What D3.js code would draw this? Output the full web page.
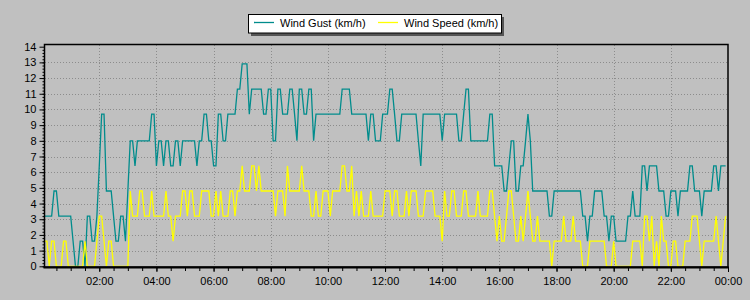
<!DOCTYPE html>
<html>
<head>
<meta charset="utf-8">
<script src="https://cdn.jsdelivr.net/npm/d3@7"></script>
<style>
    body { margin: 0; background: #c0c0c0; }
    svg { display: block; font-family: "Liberation Sans", Arial, sans-serif; }
</style>
</head>
<body>
<script>
(function(){
    "use strict";

    // readings every 5 minutes, from 00:05 to 23:55 (km/h)
    const startTime = new Date(2020, 0, 1, 0, 5);
    const endTime = new Date(2020, 0, 2, 0, 0);
    const stepMinutes = 5;

    const windGust = [
        3.2,3.2,3.2,3.2,4.8,4.8,3.2,3.2,3.2,3.2,3.2,3.2,
        1.6,0,0,1.6,1.6,0,3.2,3.2,1.6,1.6,3.2,6.4,
        9.7,9.7,4.8,4.8,4.8,3.2,1.6,1.6,3.2,3.2,1.6,4.8,
        8.0,8.0,6.4,8.0,8.0,8.0,8.0,8.0,8.0,9.7,9.7,6.4,
        8.0,8.0,6.4,8.0,8.0,6.4,6.4,8.0,8.0,6.4,8.0,8.0,
        8.0,8.0,8.0,8.0,6.4,8.0,8.0,9.7,9.7,8.0,8.0,6.4,
        6.4,9.7,9.7,8.0,8.0,9.7,9.7,9.7,9.7,11.3,11.3,12.9,
        12.9,12.9,9.7,11.3,11.3,11.3,11.3,11.3,9.7,9.7,11.3,11.3,
        8.0,8.0,11.3,11.3,9.7,9.7,9.7,11.3,11.3,9.7,8.0,11.3,
        11.3,9.7,9.7,11.3,11.3,8.0,9.7,9.7,9.7,9.7,9.7,9.7,
        9.7,9.7,9.7,9.7,9.7,11.3,11.3,11.3,11.3,9.7,9.7,9.7,
        9.7,9.7,9.7,9.7,8.0,9.7,9.7,8.0,8.0,8.0,9.7,9.7,
        9.7,11.3,11.3,9.7,8.0,8.0,9.7,9.7,9.7,9.7,9.7,9.7,
        9.7,8.0,6.4,9.7,9.7,9.7,9.7,9.7,9.7,9.7,9.7,8.0,
        9.7,9.7,9.7,9.7,9.7,9.7,8.0,8.0,9.7,11.3,11.3,8.0,
        8.0,8.0,8.0,8.0,8.0,8.0,8.0,9.7,9.7,6.4,6.4,6.4,
        6.4,4.8,4.8,6.4,8.0,8.0,4.8,4.8,6.4,6.4,8.0,9.7,
        8.0,4.8,4.8,4.8,4.8,4.8,4.8,4.8,3.2,3.2,4.8,4.8,
        4.8,4.8,4.8,4.8,4.8,4.8,4.8,4.8,4.8,4.8,3.2,3.2,
        1.6,3.2,3.2,4.8,4.8,4.8,4.8,3.2,3.2,1.6,3.2,3.2,
        1.6,1.6,1.6,1.6,1.6,3.2,3.2,4.8,3.2,3.2,3.2,6.4,
        6.4,4.8,6.4,6.4,6.4,6.4,4.8,4.8,4.8,3.2,3.2,4.8,
        4.8,4.8,3.2,4.8,4.8,4.8,4.8,6.4,6.4,4.8,4.8,4.8,
        3.2,4.8,4.8,4.8,4.8,6.4,6.4,4.8,6.4,6.4,6.4
    ];

    const windSpeed = [
        1.6,1.6,0,1.6,1.6,0,0,0,1.6,1.6,0,0,
        0,0,0,0,0,1.6,0,0,0,0,1.6,3.2,
        3.2,1.6,0,1.6,1.6,0,0,0,0,0,0,0,
        4.8,3.2,3.2,3.2,4.8,4.8,3.2,3.2,3.2,4.8,3.2,3.2,
        3.2,3.2,3.2,4.8,3.2,3.2,1.6,3.2,3.2,3.2,4.8,4.8,
        3.2,4.8,4.8,3.2,3.2,3.2,4.8,4.8,4.8,4.8,3.2,3.2,
        4.8,3.2,4.8,3.2,3.2,3.2,4.8,4.8,3.2,4.8,4.8,6.4,
        4.8,4.8,4.8,6.4,6.4,4.8,6.4,4.8,4.8,4.8,4.8,4.8,
        4.8,3.2,4.8,4.8,4.8,3.2,6.4,4.8,4.8,4.8,4.8,4.8,
        6.4,4.8,4.8,4.8,3.2,3.2,4.8,3.2,3.2,4.8,4.8,4.8,
        3.2,4.8,4.8,4.8,4.8,6.4,6.4,4.8,4.8,6.4,3.2,4.8,
        3.2,4.8,3.2,3.2,3.2,4.8,3.2,3.2,3.2,3.2,3.2,4.8,
        4.8,4.8,3.2,4.8,4.8,3.2,3.2,3.2,4.8,3.2,4.8,4.8,
        4.8,3.2,3.2,3.2,4.8,4.8,4.8,4.8,3.2,3.2,3.2,1.6,
        4.8,3.2,3.2,4.8,4.8,3.2,3.2,3.2,4.8,4.8,3.2,3.2,
        3.2,3.2,4.8,3.2,3.2,3.2,3.2,4.8,4.8,3.2,1.6,3.2,
        1.6,1.6,3.2,4.8,4.8,3.2,1.6,1.6,3.2,1.6,3.2,4.8,
        3.2,1.6,1.6,3.2,1.6,1.6,1.6,1.6,1.6,0,1.6,1.6,
        1.6,1.6,3.2,1.6,1.6,1.6,3.2,1.6,1.6,1.6,0,0,
        0,1.6,1.6,1.6,1.6,1.6,1.6,1.6,0,0,0,1.6,
        0,0,0,0,0,0,0,1.6,1.6,1.6,1.6,0,
        3.2,3.2,1.6,3.2,0,1.6,0,3.2,1.6,1.6,0,0,
        1.6,1.6,0,0,0,1.6,1.6,1.6,3.2,3.2,3.2,1.6,
        0,1.6,1.6,1.6,1.6,1.6,3.2,1.6,0,1.6,3.2
    ];

    const yTicks = [0,1,2,3,4,5,6,7,8,9,10,11,12,13,14];
    const xTickHours = [2,4,6,8,10,12,14,16,18,20,22,24];
    const xTickLabels = ["02:00","04:00","06:00","08:00","10:00","12:00",
                         "14:00","16:00","18:00","20:00","22:00","00:00"];
    const seriesNames = ["Wind Gust (km/h)", "Wind Speed (km/h)"];
    const seriesColors = ["#008c8c", "#ffff00"];

    let width = 750;
    let height = 300;
    let plot = {left: 44.5, top: 44.5, right: 728, bottom: 267};

    let svg = d3.select("body")
        .append("svg")
            .attr("width", width)
            .attr("height", height);

    svg.append("rect")
        .attr("width", width)
        .attr("height", height)
        .attr("fill", "#c0c0c0");

    let xScale = d3.scaleTime()
        .domain([startTime, endTime])
        .range([plot.left, plot.right]);

    let yScale = d3.scaleLinear()
        .domain([0, 14])
        .range([266.3, 46.7]);

    let timeAt = (i) => d3.timeMinute.offset(startTime, i * stepMinutes);

    let tickTimes = xTickHours.map((h) => new Date(2020, 0, 1, h, 0));
    let minorTimes = d3.timeMinute.every(30).range(startTime, endTime);

    // grid
    let grid = svg.append("g")
        .attr("stroke", "#8c8c8c")
        .attr("stroke-dasharray", "1,2")
        .attr("shape-rendering", "crispEdges");

    grid.selectAll(".hgrid")
        .data(yTicks.slice(1, -1))
        .enter()
        .append("line")
            .attr("x1", plot.left)
            .attr("x2", plot.right)
            .attr("y1", (d) => Math.round(yScale(d)) + 0.5)
            .attr("y2", (d) => Math.round(yScale(d)) + 0.5);

    grid.selectAll(".vgrid")
        .data(tickTimes.slice(0, -1))
        .enter()
        .append("line")
            .attr("x1", (d) => Math.round(xScale(d)) + 0.5)
            .attr("x2", (d) => Math.round(xScale(d)) + 0.5)
            .attr("y1", plot.top)
            .attr("y2", plot.bottom);

    // series
    let line = d3.line()
        .x((d, i) => xScale(timeAt(i)))
        .y((d) => yScale(d));

    [windGust, windSpeed].forEach((series, k) => {
        svg.append("path")
            .datum(series)
            .attr("fill", "none")
            .attr("stroke", seriesColors[k])
            .attr("stroke-width", 1.3)
            .attr("d", line);
    });

    // frame
    svg.append("rect")
        .attr("x", plot.left)
        .attr("y", plot.top)
        .attr("width", plot.right - plot.left)
        .attr("height", plot.bottom - plot.top)
        .attr("fill", "none")
        .attr("stroke", "#000")
        .attr("stroke-width", 1.5);

    svg.append("line")
        .attr("x1", plot.left - 1)
        .attr("x2", plot.right + 1)
        .attr("y1", plot.bottom + 0.5)
        .attr("y2", plot.bottom + 0.5)
        .attr("stroke", "#000")
        .attr("stroke-width", 2);

    // y axis
    let yAxis = d3.axisLeft(yScale)
        .tickValues(yTicks)
        .tickSize(5)
        .tickPadding(3)
        .tickFormat(d3.format("d"));

    let yMinor = d3.axisLeft(yScale)
        .tickValues(d3.range(0, 70).map((v) => v / 5))
        .tickSize(2)
        .tickFormat("");

    svg.append("g")
        .attr("transform", "translate(" + plot.left + ",0)")
        .call(yMinor)
        .call((g) => g.select(".domain").remove());

    svg.append("g")
        .attr("transform", "translate(" + plot.left + ",0)")
        .call(yAxis)
        .call((g) => g.select(".domain").remove())
        .call((g) => g.selectAll("text")
            .attr("font-size", 11)
            .attr("font-family", "Liberation Sans, Arial, sans-serif")
            .attr("fill", "#000"));

    // x axis
    let xAxis = d3.axisBottom(xScale)
        .tickValues(tickTimes)
        .tickSize(4)
        .tickPadding(5)
        .tickFormat((d, i) => xTickLabels[i]);

    let xMinor = d3.axisBottom(xScale)
        .tickValues(minorTimes)
        .tickSize(3)
        .tickFormat("");

    svg.append("g")
        .attr("transform", "translate(0," + (plot.bottom + 1) + ")")
        .call(xMinor)
        .call((g) => g.select(".domain").remove());

    svg.append("g")
        .attr("transform", "translate(0," + (plot.bottom + 1) + ")")
        .call(xAxis)
        .call((g) => g.select(".domain").remove())
        .call((g) => g.selectAll("text")
            .attr("font-size", 11)
            .attr("font-family", "Liberation Sans, Arial, sans-serif")
            .attr("fill", "#000"));

    // legend
    let legend = svg.append("g");

    legend.append("rect")
        .attr("x", 251)
        .attr("y", 17)
        .attr("width", 253)
        .attr("height", 19)
        .attr("fill", "#555");

    legend.append("rect")
        .attr("x", 248.5)
        .attr("y", 14.5)
        .attr("width", 253)
        .attr("height", 18.5)
        .attr("fill", "#fff")
        .attr("stroke", "#000")
        .attr("stroke-width", 1);

    let legendX = [254, 378];
    seriesNames.forEach((name, k) => {
        legend.append("line")
            .attr("x1", legendX[k])
            .attr("x2", legendX[k] + 20)
            .attr("y1", 22.5)
            .attr("y2", 22.5)
            .attr("stroke", seriesColors[k])
            .attr("stroke-width", 1.3);
        legend.append("text")
            .attr("x", legendX[k] + 26)
            .attr("y", 27)
            .attr("font-size", 11)
            .attr("fill", "#000")
            .text(name);
    });
})()
</script>
</body>
</html>
